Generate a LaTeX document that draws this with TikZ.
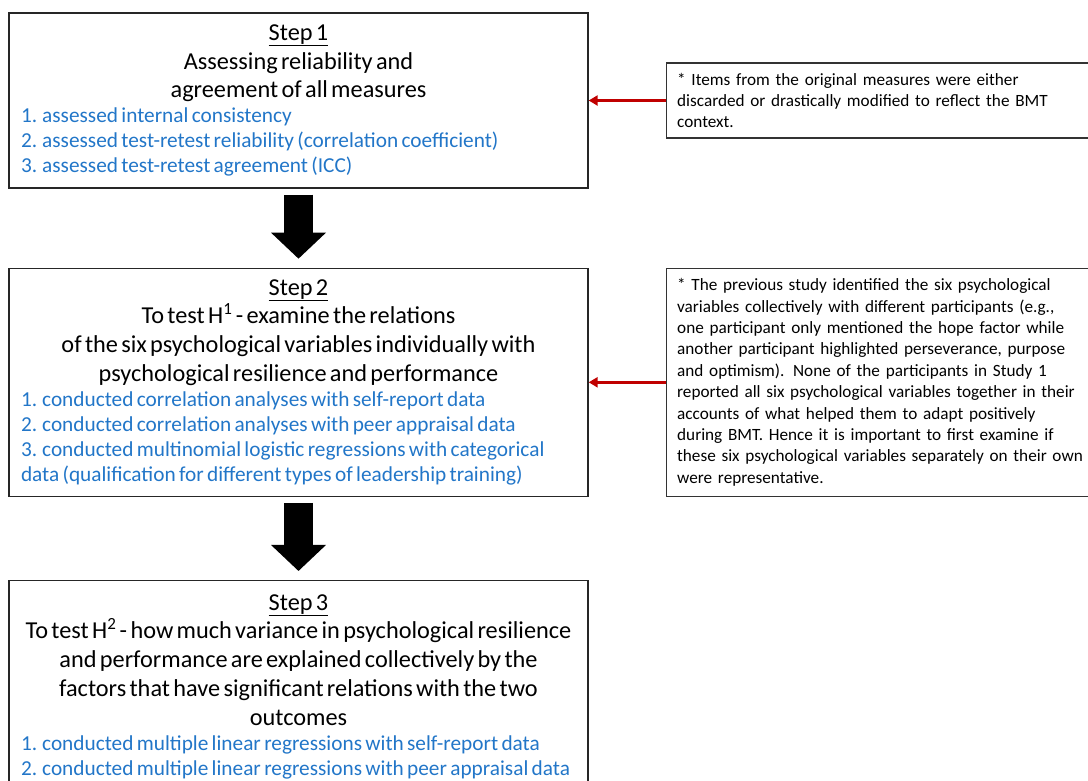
\documentclass[tikz,border=0pt]{standalone}
\usepackage{fontspec}
\setmainfont{Carlito}
\usepackage{xcolor}
\usetikzlibrary{arrows.meta,positioning}
\definecolor{itemblue}{RGB}{34,118,200}
\definecolor{notered}{RGB}{192,0,0}
\newcommand{\headfont}{\fontsize{24.3pt}{28.8pt}\selectfont}
\newcommand{\itemfont}{\fontsize{21.3pt}{25pt}\selectfont\color{itemblue}}
\newcommand{\notefont}{\fontsize{17.2pt}{21.4pt}\selectfont}

\begin{document}
\begin{tikzpicture}[
x=1pt,y=1pt,
stepbox/.style={draw=black!85,line width=1.3pt,text width=555pt,inner xsep=12pt,inner ysep=0pt},
note/.style={draw=black!80,line width=1.1pt,text width=401pt,inner xsep=11pt,inner ysep=0pt,align=left,font=\notefont},
big/.style={line width=29pt,-{Triangle[width=55pt,length=26pt,line width=0pt]},shorten <=6pt,shorten >=9pt},
t/.style={notered,line width=2.5pt,-{Triangle[width=10pt,length=9pt]}}
]
\useasboundingbox (0,0) rectangle (1088,-780);
\node[stepbox,minimum height=175pt] (step1) at (298.5,-100.5) {%
{\centering\headfont\underline{Step 1}\\Assessing reliability and\\agreement of all measures\par}
{\raggedright\itemfont 1. assessed internal consistency\\2. assessed test-retest reliability (correlation coefficient)\\3. assessed test-retest agreement (ICC)\par}};
\node[stepbox,minimum height=228pt,below=79pt of step1] (step2) {%
{\centering\headfont\underline{Step 2}\\To test H\textsuperscript{1} - examine the relations\\of the six psychological variables individually with\\psychological resilience and performance\par}
{\raggedright\itemfont 1. conducted correlation analyses with self-report data\\2. conducted correlation analyses with peer appraisal data\\3. conducted multinomial logistic regressions with categorical\\data (qualification for different types of leadership training)\par}};
\node[stepbox,minimum height=212pt,below=83pt of step2] (step3) {%
{\centering\headfont\underline{Step 3}\\\mbox{To test H\textsuperscript{2} - how much variance in psychological resilience}\\and performance are explained collectively by the\\factors that have significant relations with the two\\outcomes\par}
{\raggedright\itemfont 1. conducted multiple linear regressions with self-report data\\2. conducted multiple linear regressions with peer appraisal data\par}};
\node[note,minimum height=75pt,right=77pt of step1] (note1) {* Items from the original measures were either\\discarded or drastically modified to reflect the BMT\\context.};
\node[note,minimum height=228pt,right=77pt of step2] (note2) {* The previous study identified the six psychological\\variables collectively with different participants (e.g.,\\one participant only mentioned the hope factor while\\another participant highlighted perseverance, purpose\\and optimism). None of the participants in Study 1\\\mbox{reported all six psychological variables together in their}\\accounts of what helped them to adapt positively\\during BMT. Hence it is important to first examine if\\\mbox{these six psychological variables separately on their own}\\were representative.};

\draw[big] (step1) -- (step2);
\draw[big] (step2) -- (step3);
\draw[t] (note1.west) -- (note1.west -| step1.east);
\draw[t] (note2.west) -- (note2.west -| step2.east);
\end{tikzpicture}
\end{document}
